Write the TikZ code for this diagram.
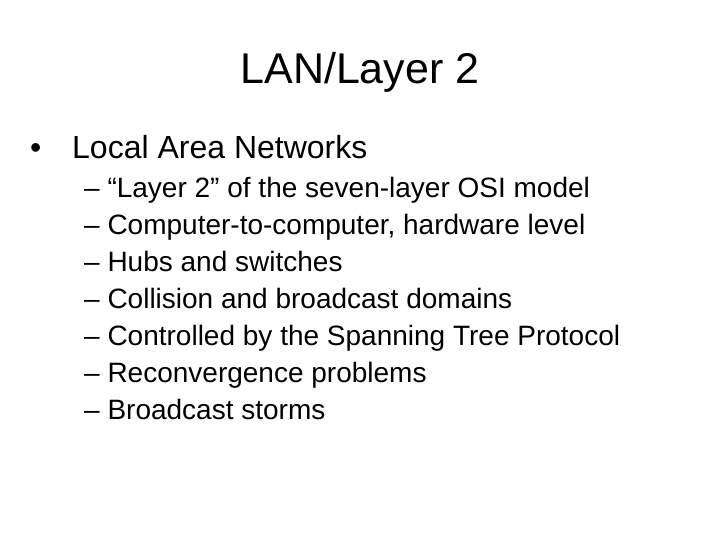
\documentclass[tikz,border=0pt]{standalone}
\usepackage{fontspec}
\setmainfont{Liberation Sans}
\begin{document}
\begin{tikzpicture}[x=1pt,y=-1pt,
  txt/.style={anchor=base west,inner sep=0pt,font=\fontsize{28}{30}\selectfont},
  lvl1/.style={anchor=base west,inner sep=0pt,font=\fontsize{32}{34}\selectfont}]
\useasboundingbox[fill=white] (0,0) rectangle (720,540);
\node[anchor=base,inner sep=0pt,font=\fontsize{43}{46}\selectfont] (title) at (360,84) {LAN/Layer 2};
\node[lvl1] (b) at (30,159) {•};
\node[lvl1] (l1) at (72,159) {Local Area Networks};
\node[txt] (s1) at (84,197) {– “Layer 2” of the seven-layer OSI model};
\node[txt] (s2) at (84,234) {– Computer-to-computer, hardware level};
\node[txt] (s3) at (84,271) {– Hubs and switches};
\node[txt] (s4) at (84,308) {– Collision and broadcast domains};
\node[txt] (s5) at (84,345) {– Controlled by the Spanning Tree Protocol};
\node[txt] (s6) at (84,382) {– Reconvergence problems};
\node[txt] (s7) at (84,419) {– Broadcast storms};
\end{tikzpicture}
\end{document}
